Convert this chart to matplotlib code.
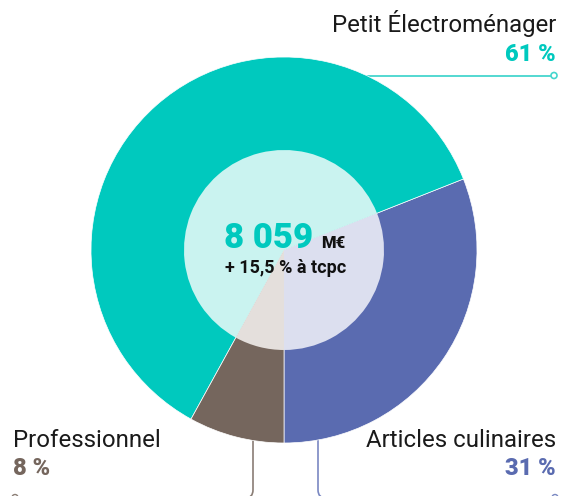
import matplotlib
matplotlib.use('Agg')
import matplotlib.pyplot as plt
from matplotlib.patches import Circle
from matplotlib.path import Path
from matplotlib.patches import PathPatch

categories = ['Articles culinaires', 'Petit Électroménager', 'Professionnel']
shares = [31, 61, 8]
share_labels = ['31 %', '61 %', '8 %']
outer_colors = ['#5A6BB0', '#00C9BE', '#75665D']
inner_colors = ['#DCDFEF', '#CAF3F0', '#E4DFDC']
line_colors = ['#7A88C2', '#45D6CE', '#8A7D75']
total_label = '8 059'
unit_label = 'M€'
growth_label = '+ 15,5 % à tcpc'

W, H = 567, 496
fig = plt.figure(figsize=(W / 100, H / 100), dpi=100)
ax = fig.add_axes([0, 0, 1, 1])

def Y(y):
    return H - y

cx, cy = 284, Y(250)
R, r = 193, 100

# leader lines (behind donut)
ax.plot([330, 551], [Y(75.5), Y(75.5)], color=line_colors[1], lw=1.3, zorder=0)
ax.add_patch(Circle((554, Y(75.5)), 3, facecolor='white', edgecolor=line_colors[1], lw=1.2, zorder=3))

def leader(x0, direction, color, xend):
    verts = [(x0, Y(430)), (x0, Y(490)), (x0, Y(498)), (x0 + 8 * direction, Y(498)), (xend, Y(498))]
    codes = [Path.MOVETO, Path.LINETO, Path.CURVE3, Path.CURVE3, Path.LINETO]
    ax.add_patch(PathPatch(Path(verts, codes), facecolor='none', edgecolor=color, lw=1.2, zorder=0))

leader(253, -1, line_colors[2], 18)
leader(318, 1, line_colors[0], 552)
ax.add_patch(Circle((15, Y(497.5)), 3, facecolor='white', edgecolor=line_colors[2], lw=1.0, zorder=3))
ax.add_patch(Circle((555, Y(497.5)), 3, facecolor='white', edgecolor=line_colors[0], lw=1.0, zorder=3))

ax.pie(shares, colors=outer_colors, startangle=270, counterclock=True, radius=R,
       center=(cx, cy), wedgeprops=dict(edgecolor='white', linewidth=0.5))
ax.pie(shares, colors=inner_colors, startangle=270, counterclock=True, radius=r,
       center=(cx, cy), wedgeprops=dict(edgecolor='none', linewidth=0))

ax.set_xlim(0, W)
ax.set_ylim(0, H)
ax.set_aspect('equal')
ax.axis('off')

font = 'Roboto'
ax.text(313, Y(248), total_label, ha='right', va='baseline', fontsize=25, fontweight=900,
        color=outer_colors[1], family=font)
ax.text(321, Y(248), unit_label, ha='left', va='baseline', fontsize=12, fontweight=900,
        color='#111111', family=font)
ax.text(286, Y(273), growth_label, ha='center', va='baseline', fontsize=13, fontweight='bold',
        color='#111111', family=font)

ax.text(556, Y(32), categories[1], ha='right', va='baseline', fontsize=17.3, color='#1a1a1a', family=font)
ax.text(556, Y(61), share_labels[1], ha='right', va='baseline', fontsize=17, fontweight=900,
        color=outer_colors[1], family=font)

ax.text(13, Y(447), categories[2], ha='left', va='baseline', fontsize=17.3, color='#1a1a1a', family=font)
ax.text(13, Y(475), share_labels[2], ha='left', va='baseline', fontsize=17, fontweight=900,
        color=outer_colors[2], family=font)

ax.text(556, Y(447), categories[0], ha='right', va='baseline', fontsize=17.3, color='#1a1a1a', family=font)
ax.text(556, Y(475), share_labels[0], ha='right', va='baseline', fontsize=17, fontweight=900,
        color=outer_colors[0], family=font)

fig.savefig('out.png', dpi=100)
